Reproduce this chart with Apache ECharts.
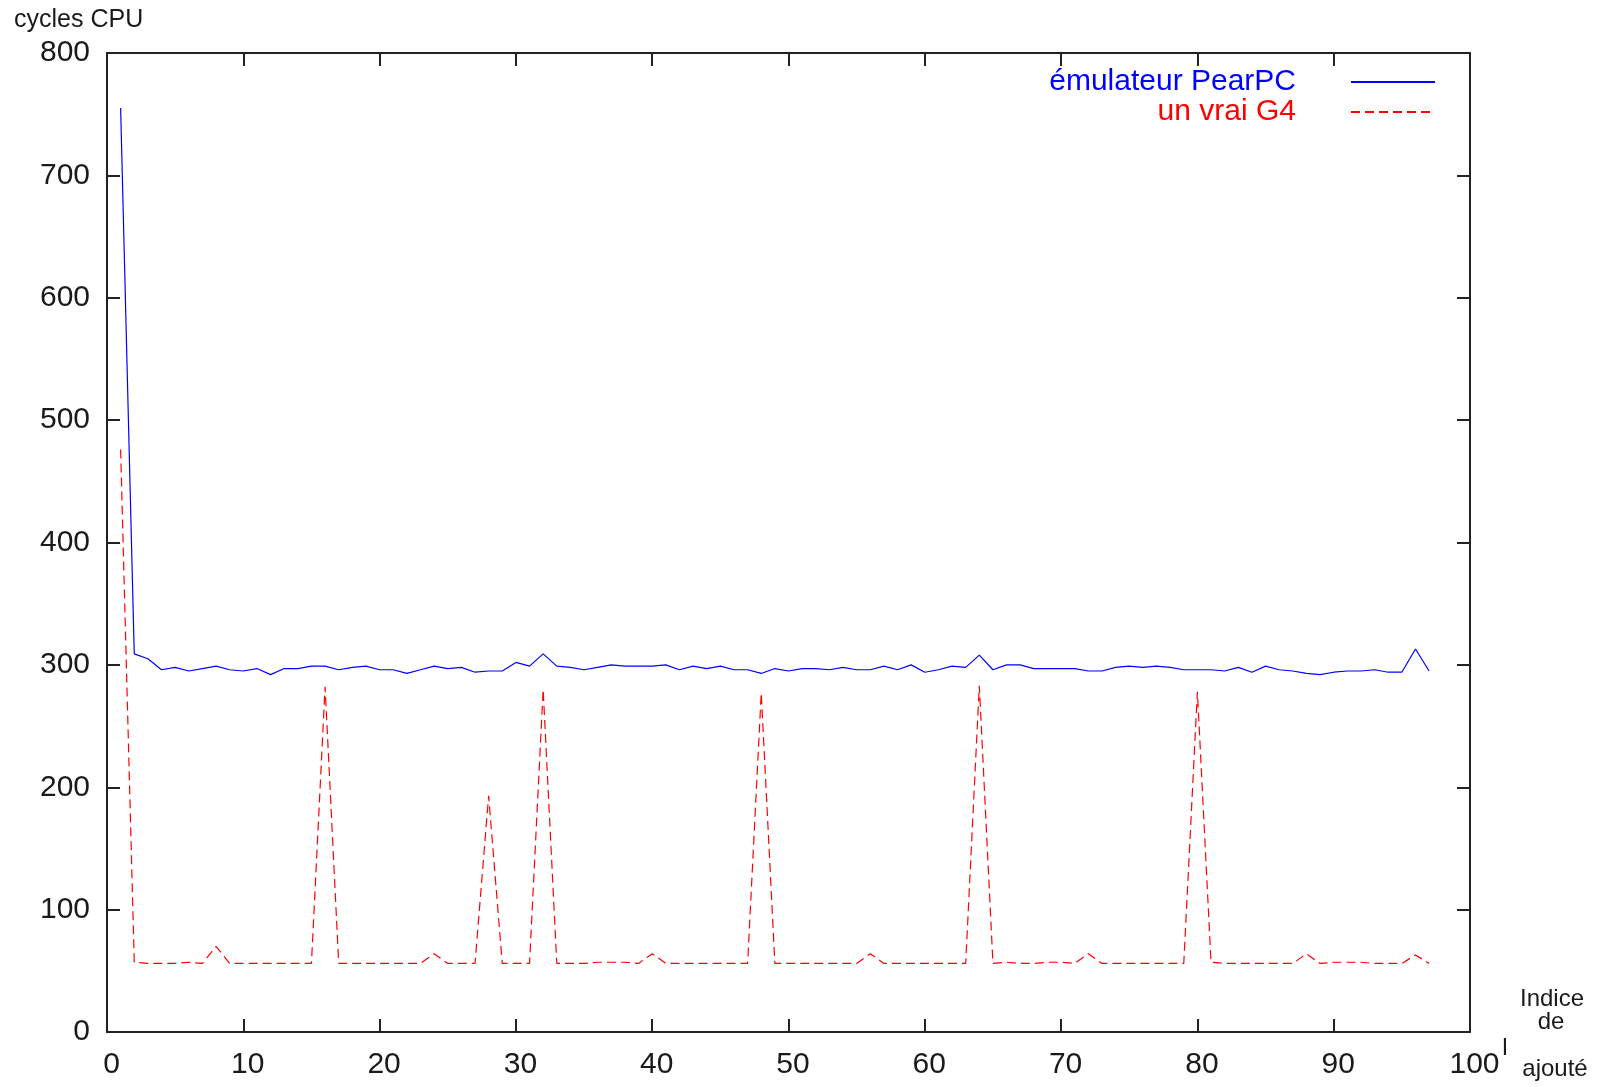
<!DOCTYPE html>
<html>
<head>
<meta charset="utf-8">
<script src="https://cdn.jsdelivr.net/npm/echarts@6/dist/echarts.min.js"></script>
<style>
html, body { margin: 0; padding: 0; background: #fff; }
#chart { width: 1599px; height: 1087px; }
</style>
</head>
<body>
<div id="chart"></div>
<script>
// Data
var seriesNames = ['émulateur PearPC', 'un vrai G4'];
var xTickLabels = ['0', '10', '20', '30', '40', '50', '60', '70', '80', '90', '100'];
var yTickLabels = ['0', '100', '200', '300', '400', '500', '600', '700', '800'];
var pearpc = [
  755, 309, 305, 296, 298, 295, 297, 299, 296, 295,
  297, 292, 297, 297, 299, 299, 296, 298, 299, 296,
  296, 293, 296, 299, 297, 298, 294, 295, 295, 302,
  299, 309, 299, 298, 296, 298, 300, 299, 299, 299,
  300, 296, 299, 297, 299, 296, 296, 293, 297, 295,
  297, 297, 296, 298, 296, 296, 299, 296, 300, 294,
  296, 299, 298, 308, 296, 300, 300, 297, 297, 297,
  297, 295, 295, 298, 299, 298, 299, 298, 296, 296,
  296, 295, 298, 294, 299, 296, 295, 293, 292, 294,
  295, 295, 296, 294, 294, 313, 295
];
var g4 = [
  476, 57, 56, 56, 56, 57, 56, 70, 56, 56,
  56, 56, 56, 56, 56, 282, 56, 56, 56, 56,
  56, 56, 56, 64, 56, 56, 56, 193, 56, 56,
  56, 280, 56, 56, 56, 57, 57, 57, 56, 64,
  56, 56, 56, 56, 56, 56, 56, 277, 56, 56,
  56, 56, 56, 56, 56, 64, 56, 56, 56, 56,
  56, 56, 56, 283, 56, 57, 56, 56, 57, 57,
  56, 64, 56, 56, 56, 56, 56, 56, 56, 278,
  57, 56, 56, 56, 56, 56, 56, 64, 56, 57,
  57, 57, 56, 56, 56, 63, 56
];
// block index (1..97)
var indices = pearpc.map(function (v, i) { return i + 1; });

function pairs(vals) { return vals.map(function (v, i) { return [indices[i], v]; }); }

var FONT = '"Liberation Sans", Arial, Helvetica, sans-serif';
var AXIS_COLOR = '#222222';
var TEXT_COLOR = '#1a1a1a';

var chart = echarts.init(document.getElementById('chart'), null, { renderer: 'canvas' });

function xAxisDef(pos, showLabel) {
  return {
    type: 'value', position: pos, min: 0, max: 100, interval: 10,
    axisLine: { show: true, onZero: false, lineStyle: { color: AXIS_COLOR, width: 2 } },
    axisTick: { show: true, inside: true, length: 13, lineStyle: { color: AXIS_COLOR, width: 2 } },
    axisLabel: {
      show: showLabel, margin: 18, fontSize: 30, fontFamily: FONT, color: TEXT_COLOR,
      padding: [0, 0, 0, 9],
      formatter: function (v) { return xTickLabels[Math.round(v / 10)]; }
    },
    splitLine: { show: false }
  };
}
function yAxisDef(pos, showLabel) {
  return {
    type: 'value', position: pos, min: 0, max: 800, interval: 100,
    axisLine: { show: true, onZero: false, lineStyle: { color: AXIS_COLOR, width: 2 } },
    axisTick: { show: true, inside: true, length: 13, lineStyle: { color: AXIS_COLOR, width: 2 } },
    axisLabel: {
      show: showLabel, margin: 17, fontSize: 30, fontFamily: FONT, color: TEXT_COLOR,
      formatter: function (v) { return yTickLabels[Math.round(v / 100)]; }
    },
    splitLine: { show: false }
  };
}

chart.setOption({
  animation: false,
  backgroundColor: '#ffffff',
  grid: { left: 107, right: 129, top: 53, bottom: 55, containLabel: false },
  xAxis: [xAxisDef('bottom', true), xAxisDef('top', false)],
  yAxis: [yAxisDef('left', true), yAxisDef('right', false)],
  legend: {
    orient: 'vertical', right: 158, top: 62, align: 'right',
    itemWidth: 84, itemHeight: 14, itemGap: 0,
    selectedMode: false,
    itemStyle: { opacity: 0 },
    data: [
      { name: seriesNames[0], textStyle: { color: '#0000ff' } },
      { name: seriesNames[1], textStyle: { color: '#ff0000' } }
    ],
    textStyle: { fontSize: 30, fontFamily: FONT, lineHeight: 30, padding: [0, 50, 0, 0] }
  },
  series: [
    {
      name: seriesNames[0], type: 'line', xAxisIndex: 0, yAxisIndex: 0,
      data: pairs(pearpc), symbol: 'none', showSymbol: false,
      lineStyle: { color: '#0000ff', width: 1.2 }, itemStyle: { color: '#0000ff' }
    },
    {
      name: seriesNames[1], type: 'line', xAxisIndex: 0, yAxisIndex: 0,
      data: pairs(g4), symbol: 'none', showSymbol: false,
      lineStyle: { color: '#ff0000', width: 1.2, type: [9, 5] }, itemStyle: { color: '#ff0000' }
    }
  ],
  graphic: [
    { type: 'text', left: 14, top: 8, style: { text: 'cycles CPU', font: '25px ' + FONT, fill: TEXT_COLOR } },
    { type: 'text', x: 1552, y: 999, style: { text: 'Indice', font: '24px ' + FONT, fill: TEXT_COLOR, textAlign: 'center', textVerticalAlign: 'middle' } },
    { type: 'text', x: 1551, y: 1022, style: { text: 'de', font: '24px ' + FONT, fill: TEXT_COLOR, textAlign: 'center', textVerticalAlign: 'middle' } },
    { type: 'text', x: 1505, y: 1048, style: { text: 'l', font: '24px ' + FONT, fill: TEXT_COLOR, textAlign: 'center', textVerticalAlign: 'middle' } },
    { type: 'text', x: 1555, y: 1069, style: { text: 'ajouté', font: '24px ' + FONT, fill: TEXT_COLOR, textAlign: 'center', textVerticalAlign: 'middle' } }
  ]
});
</script>
</body>
</html>
